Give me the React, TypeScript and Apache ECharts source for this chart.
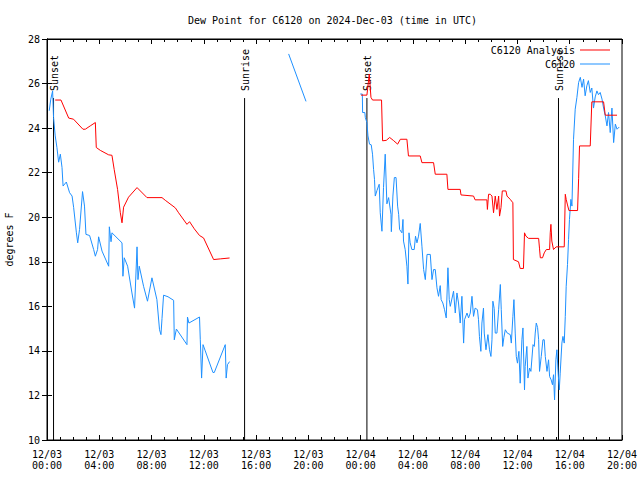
import React, { useEffect, useRef } from 'react';
import * as echarts from 'echarts';

const FONT = '"DejaVu Sans Mono", monospace';

const titleText = 'Dew Point for C6120 on 2024-Dec-03 (time in UTC)';
const seriesNames = ['C6120 Analysis', 'C6120'];
const xTickLabels = [
  '12/03\n00:00', '12/03\n04:00', '12/03\n08:00', '12/03\n12:00', '12/03\n16:00', '12/03\n20:00',
  '12/04\n00:00', '12/04\n04:00', '12/04\n08:00', '12/04\n12:00', '12/04\n16:00', '12/04\n20:00',
];
const yTicks = [10, 12, 14, 16, 18, 20, 22, 24, 26, 28];

// sun events: hours since 12/03 00:00 UTC
const sunTimes = [0.5, 15.12, 24.48, 39.14];
const sunLabels = ['Sunset', 'Sunrise', 'Sunset', 'Sunrise'];
const sunLineTop = 25.35;

// [hours since 12/03 00:00, dew point F]
const analysisPart1 = [
  [0.63, 25.26], [1.07, 25.26], [1.66, 24.45], [2.03, 24.4], [2.75, 23.95], [2.93, 23.95], [3.31, 24.1],
  [3.70, 24.25], [3.77, 23.13], [4.08, 23.0], [4.72, 22.8], [4.97, 22.78], [5.14, 22.15], [5.40, 21.25],
  [5.61, 20.2], [5.74, 19.75], [5.86, 20.45], [6.24, 20.9], [6.89, 21.33], [7.65, 20.88], [8.80, 20.88],
  [9.05, 20.76], [9.82, 20.42], [10.07, 20.2], [10.71, 19.68], [10.91, 19.8], [11.27, 19.48], [11.67, 19.18],
  [11.98, 19.07], [12.75, 18.1], [13.26, 18.13], [13.97, 18.17],
];
const analysisPart2 = [
  [24.03, 25.48], [24.48, 25.48], [24.66, 26.43], [24.79, 25.38], [24.91, 25.26], [25.60, 25.26],
  [25.68, 23.43], [25.96, 23.45], [26.22, 23.58], [26.50, 23.45], [26.83, 23.28], [27.04, 23.5],
  [27.54, 23.5], [27.66, 22.75], [28.56, 22.75], [28.69, 22.45], [29.58, 22.45], [29.71, 21.93],
  [30.60, 21.93], [30.68, 21.25], [31.62, 21.25], [31.68, 21.0], [32.64, 20.95], [32.76, 20.78],
  [33.66, 20.78], [33.70, 20.35], [33.79, 21.03], [33.92, 21.03], [34.05, 20.95], [34.17, 20.2],
  [34.30, 20.95], [34.43, 20.35], [34.56, 20.95], [34.63, 20.05], [34.74, 20.43], [34.84, 21.18],
  [35.12, 21.18], [35.20, 20.95], [35.45, 20.8], [35.65, 20.65], [35.69, 18.1], [36.08, 18.0],
  [36.21, 17.7], [36.46, 17.7], [36.54, 19.3], [36.65, 19.15], [36.85, 19.05], [37.62, 19.05],
  [37.69, 18.58], [37.75, 18.18], [37.92, 18.18], [38.05, 18.4], [38.21, 18.55], [38.46, 18.55],
  [38.51, 19.3], [38.56, 19.68], [38.63, 18.93], [38.76, 18.55], [38.96, 18.67], [39.58, 18.67],
  [39.66, 21.03], [39.73, 20.8], [39.83, 20.55], [39.94, 20.3], [40.60, 20.3], [40.68, 21.73],
  [40.75, 23.2], [41.57, 23.2], [41.69, 25.18], [42.59, 25.18], [42.72, 24.58], [43.62, 24.58],
];

const obsPart1 = [
  [0.17, 24.78], [0.29, 25.3], [0.43, 25.67], [0.50, 24.47], [0.63, 23.65], [0.76, 23.13], [0.89, 22.47],
  [1.02, 22.83], [1.15, 22.23], [1.23, 21.4], [1.48, 21.58], [1.73, 21.1], [1.92, 20.95], [2.04, 20.43],
  [2.25, 19.3], [2.35, 18.85], [2.49, 19.45], [2.72, 21.15], [2.87, 20.5], [2.98, 19.23], [3.26, 19.18],
  [3.57, 18.55], [3.70, 18.25], [3.87, 18.55], [3.95, 19.12], [4.21, 18.48], [4.72, 17.8], [4.77, 19.57],
  [4.90, 18.9], [4.97, 19.3], [5.74, 18.85], [5.81, 17.35], [5.91, 18.18], [6.17, 17.8], [6.50, 16.6],
  [6.70, 15.92], [6.89, 18.67], [6.96, 17.2], [7.06, 17.8], [7.39, 16.9], [7.69, 16.23], [8.03, 17.28],
  [8.41, 16.3], [8.61, 14.95], [8.72, 14.73], [8.80, 15.45], [8.92, 16.5], [9.26, 16.43], [9.69, 16.27],
  [9.74, 14.5], [9.90, 14.98], [10.71, 14.28], [10.75, 15.52], [10.86, 15.25], [11.67, 15.52], [11.73, 14.5],
  [11.83, 12.78], [11.94, 14.28], [12.11, 14.0], [12.70, 13.03], [12.80, 13.03], [13.64, 14.28],
  [13.71, 12.78], [13.81, 13.38], [13.97, 13.52],
];
const obsPart2 = [[18.49, 27.33], [19.82, 25.2]];
const obsPart3 = [
  [23.97, 25.53], [24.13, 25.53], [24.15, 24.7], [24.32, 24.7], [24.36, 24.47], [24.48, 24.25], [24.56, 23.65],
  [24.68, 23.28], [24.81, 23.25], [24.91, 22.83], [24.99, 22.15], [25.06, 21.7], [25.12, 20.95], [25.25, 21.2],
  [25.42, 21.48], [25.50, 20.2], [25.63, 19.37], [25.75, 21.33], [25.88, 22.83], [26.01, 20.6], [26.14, 20.88],
  [26.32, 20.13], [26.35, 19.35], [26.47, 20.95], [26.58, 21.78], [26.71, 21.78], [26.83, 20.5], [26.91, 20.13],
  [26.98, 19.45], [27.16, 19.3], [27.24, 19.9], [27.28, 18.93], [27.41, 18.55], [27.54, 17.8], [27.62, 17.0],
  [27.70, 19.3], [27.79, 18.85], [27.92, 18.55], [28.10, 18.55], [28.20, 19.15], [28.31, 18.85], [28.43, 19.15],
  [28.56, 19.72], [28.69, 18.7], [28.82, 17.65], [28.95, 17.2], [29.08, 18.33], [29.33, 18.33], [29.46, 17.2],
  [29.58, 17.65], [29.71, 17.65], [29.84, 16.83], [29.96, 16.45], [30.09, 16.93], [30.16, 16.3], [30.29, 16.15],
  [30.42, 15.85], [30.55, 15.48], [30.68, 17.73], [30.78, 16.3], [30.86, 16.0], [31.11, 16.68], [31.24, 15.7],
  [31.37, 16.6], [31.49, 16.15], [31.62, 15.25], [31.75, 16.45], [31.88, 14.35], [31.95, 15.4], [32.14, 15.7],
  [32.26, 15.48], [32.39, 15.7], [32.52, 16.45], [32.64, 15.55], [32.76, 15.92], [32.94, 15.85], [33.02, 15.4],
  [33.09, 14.65], [33.20, 13.98], [33.28, 15.25], [33.40, 15.92], [33.46, 14.8], [33.59, 14.05], [33.74, 14.73],
  [33.86, 14.05], [33.97, 13.75], [34.05, 14.5], [34.12, 16.23], [34.22, 15.9], [34.30, 14.8], [34.43, 14.8],
  [34.56, 15.85], [34.69, 16.98], [34.76, 15.85], [34.87, 14.2], [34.96, 14.6], [35.07, 14.95], [35.22, 14.8],
  [35.45, 14.73], [35.53, 14.35], [35.65, 15.55], [35.73, 16.3], [35.83, 14.8], [35.91, 13.75], [36.00, 13.45],
  [36.11, 13.98], [36.21, 12.55], [36.34, 14.5], [36.42, 15.03], [36.54, 12.25], [36.59, 13.3], [36.72, 14.2],
  [36.80, 12.78], [36.93, 13.23], [37.03, 13.08], [37.19, 14.28], [37.29, 14.2], [37.36, 14.8], [37.44, 15.25],
  [37.54, 15.05], [37.62, 14.5], [37.69, 13.08], [37.82, 13.75], [37.95, 14.5], [38.05, 14.5], [38.13, 13.75],
  [38.26, 13.08], [38.38, 13.6], [38.46, 12.85], [38.58, 12.7], [38.68, 12.48], [38.76, 12.93], [38.84, 11.8],
  [38.94, 13.6], [39.02, 14.05], [39.10, 13.15], [39.20, 12.25], [39.27, 13.0], [39.40, 14.35], [39.48, 14.65],
  [39.58, 14.35], [39.66, 15.55], [39.73, 16.9], [39.83, 17.88], [39.91, 19.0], [39.98, 19.9], [40.09, 20.8],
  [40.17, 20.5], [40.29, 23.5], [40.42, 24.85], [40.55, 25.38], [40.68, 26.05], [40.81, 26.28], [40.94, 25.83],
  [41.06, 26.2], [41.18, 25.45], [41.31, 25.9], [41.43, 26.13], [41.57, 25.6], [41.69, 25.8], [41.82, 24.9],
  [41.95, 25.4], [42.08, 25.67], [42.20, 25.5], [42.33, 25.6], [42.47, 25.3], [42.59, 24.9], [42.72, 24.55],
  [42.85, 24.1], [42.97, 24.7], [43.10, 23.8], [43.23, 24.9], [43.36, 23.35], [43.49, 24.18], [43.62, 23.95],
  [43.79, 24.05],
];

const join = (...parts: number[][][]) => {
  const out: (number | null)[][] = [];
  parts.forEach((p, i) => {
    if (i > 0) out.push([p[0][0] - 0.01, null]);
    p.forEach((d) => out.push(d));
  });
  return out;
};

const txt = { fontFamily: FONT, fontSize: 10, color: '#000' };
const black = { color: '#000', width: 1 };

export default function App() {
  const ref = useRef<HTMLDivElement>(null);
  useEffect(() => {
    if (!ref.current) return;
    const chart = echarts.init(ref.current, null, { renderer: 'svg' });
    const xBase = {
      type: 'value', min: 0, max: 44, interval: 4,
      axisLine: { show: true, lineStyle: black },
      axisTick: { show: true, inside: true, length: 5, lineStyle: black },
      minorTick: { show: true, splitNumber: 4, length: 3, lineStyle: black },
      splitLine: { show: false },
    };
    const yBase = {
      type: 'value', min: 10, max: 28, interval: 2,
      axisLine: { show: true, lineStyle: black },
      axisTick: { show: true, inside: true, length: 5, lineStyle: black },
      splitLine: { show: false },
    };
    chart.setOption({
      animation: false,
      title: {
        text: titleText, left: 188, top: 15, padding: 0,
        textStyle: { ...txt, fontWeight: 'normal' },
      },
      legend: {
        data: seriesNames, orient: 'vertical', align: 'right', right: 30, top: 44, padding: 0,
        icon: 'rect', itemWidth: 30, itemHeight: 1, itemGap: 2, textStyle: { ...txt, lineHeight: 12 },
      },
      grid: {
        left: 47, right: 18, top: 39, bottom: 40, show: true, borderColor: '#000', borderWidth: 1,
        outerBoundsMode: 'none', containLabel: false,
      },
      xAxis: [
        {
          ...xBase, position: 'bottom',
          axisLabel: {
            ...txt, margin: 9, lineHeight: 11, showMinLabel: true, showMaxLabel: true,
            formatter: (v: number) => xTickLabels[Math.round(v / 4)] ?? '',
          },
        },
        { ...xBase, position: 'top', axisLabel: { show: false } },
      ],
      yAxis: [
        {
          ...yBase, position: 'left',
          name: 'degrees F', nameLocation: 'middle', nameGap: 33, nameRotate: 90,
          nameTextStyle: txt,
          axisLabel: { ...txt, margin: 7, formatter: (v: number) => (yTicks.includes(v) ? String(v) : '') },
        },
        { ...yBase, position: 'right', axisLabel: { show: false } },
      ],
      series: [
        {
          type: 'custom', name: 'sun', silent: true, z: 1,
          data: sunTimes.map((t, i) => [t, sunLineTop, i]),
          renderItem: (_p: any, api: any) => {
            const x = api.value(0);
            const top = api.value(1);
            const idx = api.value(2);
            const p0 = api.coord([x, 10]);
            const p1 = api.coord([x, top]);
            return {
              type: 'group',
              children: [
                { type: 'line', shape: { x1: p0[0], y1: p0[1], x2: p1[0], y2: p1[1] }, style: { stroke: '#000', lineWidth: 1 } },
                {
                  type: 'text', x: p1[0] + 1, y: p1[1] - 7, rotation: Math.PI / 2,
                  style: { text: sunLabels[idx], fill: '#000', fontFamily: FONT, fontSize: 10, align: 'left', verticalAlign: 'middle' },
                },
              ],
            };
          },
        },
        {
          type: 'line', name: seriesNames[1], data: join(obsPart1, obsPart2, obsPart3),
          showSymbol: false, symbol: 'none', connectNulls: false, z: 2,
          lineStyle: { color: '#1e90ff', width: 1 }, itemStyle: { color: '#1e90ff' },
        },
        {
          type: 'line', name: seriesNames[0], data: join(analysisPart1, analysisPart2),
          showSymbol: false, symbol: 'none', connectNulls: false, z: 3,
          lineStyle: { color: '#ff0000', width: 1 }, itemStyle: { color: '#ff0000' },
        },
      ],
    });
    return () => chart.dispose();
  }, []);
  return <div ref={ref} style={{ position: 'absolute', left: 0, top: 0, width: 640, height: 480 }} />;
}
